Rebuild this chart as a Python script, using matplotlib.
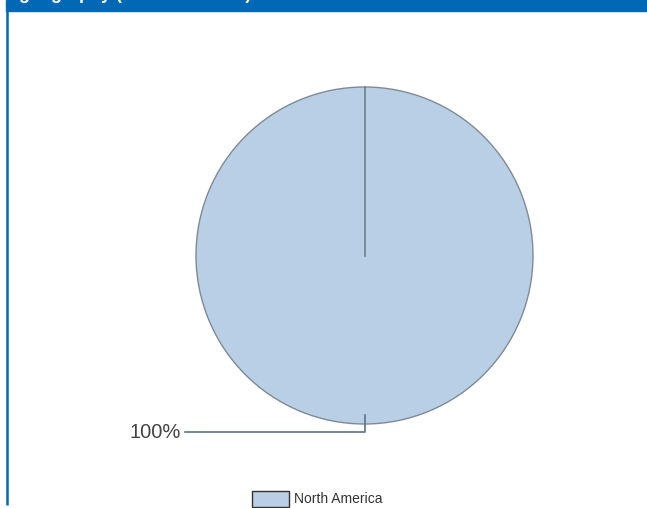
import numpy as np
import matplotlib
matplotlib.use("Agg")
import matplotlib.pyplot as plt
from matplotlib.patches import Rectangle

# data
regions = ["North America"]
shares = [100.0]
title = "geography (North America)"

fill = "#b9cfe5"
edge = "#7f8a96"
band = "#0068b5"

plt.rcParams["font.family"] = ["Liberation Sans", "DejaVu Sans"]

W, H = 647, 508
fig = plt.figure(figsize=(W / 100, H / 100), dpi=100)
ax = fig.add_axes([0, 0, 1, 1])
ax.set_xlim(0, W)
ax.set_ylim(H, 0)
ax.set_aspect("equal")
ax.axis("off")

# panel frame: header band (title mostly scrolled out of view) + left border
ax.add_patch(Rectangle((6, 0), W - 6, 11, color=band, zorder=1))
ax.plot([7, 7], [11, 505], color=band, lw=1.8, solid_capstyle="butt")
tax = fig.add_axes([6 / W, 1 - 11 / H, 1 - 6 / W, 11 / H])
tax.set_xlim(6, W)
tax.set_ylim(11, 0)
tax.axis("off")
tax.text(19, -1, title, color="white", fontsize=13, fontweight="bold",
         va="baseline", ha="left", clip_on=True)

cx, cy, r = 364.5, 255.5, 168.5
start = -90
wedges, _ = ax.pie(shares, startangle=start, counterclock=True, center=(cx, cy),
                   radius=r, colors=[fill],
                   wedgeprops=dict(edgecolor=edge, linewidth=1.0))
ax.set_xlim(0, W)
ax.set_ylim(H, 0)

# slice boundary lines
total = sum(shares)
ang = start
for s in shares:
    a = np.deg2rad(ang)
    ax.plot([cx, cx + r * np.cos(a)], [cy, cy + r * np.sin(a)], color="#6f7d8c", lw=1.2)
    ang += 360 * s / total

# labels with leader lines
ang = start
for s in shares:
    mid = np.deg2rad(ang + 180 * s / total)
    px, py = cx + (r - 9) * np.cos(mid), cy + (r - 9) * np.sin(mid)
    ly = cy + (r + 8) * np.sin(mid)
    ax.plot([px, px, 185], [py, ly, ly], color="#5f7184", lw=1.2)
    ax.text(181, ly, f"{s:.0f}%", ha="right", va="center", fontsize=14.5, color="#444444")
    ang += 360 * s / total

# legend
for i, name in enumerate(regions):
    ax.add_patch(Rectangle((252, 491), 37, 16, facecolor=fill, edgecolor="#333333", lw=1.0))
    ax.text(294, 499, name, ha="left", va="center", fontsize=10, color="#333333")

fig.savefig("out.png", dpi=100)
